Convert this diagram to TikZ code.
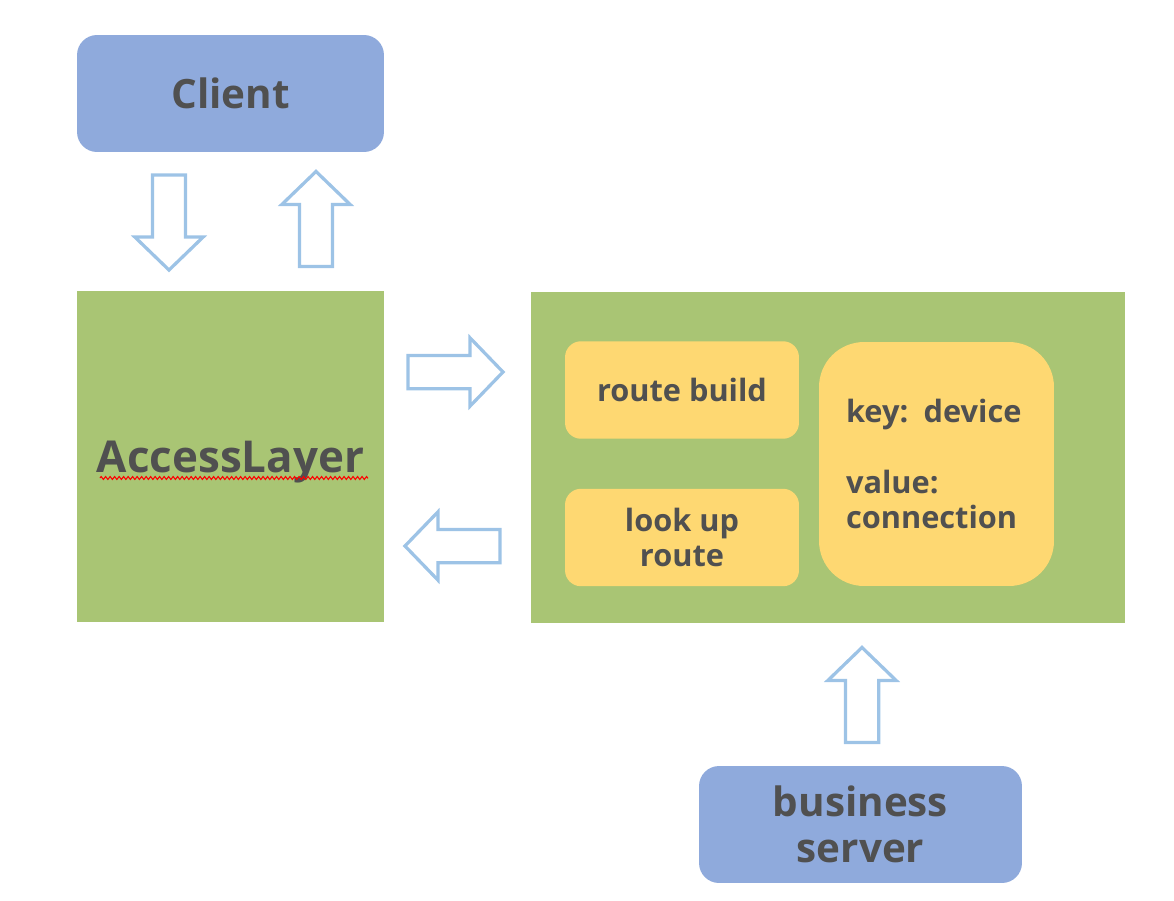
\documentclass[tikz,border=0pt]{standalone}
\usepackage{fontspec}
\setmainfont{Open Sans}
\usepackage{tikz}
\usetikzlibrary{shapes,shapes.arrows}
\usetikzlibrary{decorations.pathmorphing}

\definecolor{boxblue}{HTML}{8FAADC}
\definecolor{layergreen}{HTML}{A9C574}
\definecolor{tableyellow}{HTML}{FED872}
\definecolor{textgray}{HTML}{505050}
\definecolor{arrowblue}{HTML}{9DC3E6}

\begin{document}
\begin{tikzpicture}[x=0.02cm, y=-0.02cm,
every node/.style={text=textgray, font=\bfseries},
endpoint/.style={fill=boxblue, rounded corners=0.4cm, minimum width=6.14cm, minimum height=2.34cm, align=center, font=\fontsize{23}{27}\selectfont\bfseries},
layer/.style={fill=layergreen, minimum height=6.62cm},
table/.style={fill=tableyellow, rounded corners=0.32cm, minimum width=4.68cm, minimum height=1.95cm, align=center, font=\fontsize{17.5}{20}\selectfont\bfseries},
flow/.style={single arrow, draw=arrowblue, fill=white, line width=0.065cm, inner sep=0.3cm, single arrow head extend=0.35cm, single arrow tip angle=92, minimum height=1.9cm}
    ]
  \useasboundingbox (0,0) rectangle (1174,900);
  % outer boxes
  \node[endpoint] (client) at (230.5,93.5) {Client};
  \node[layer, minimum width=6.14cm, font=\fontsize{25}{30}\selectfont\bfseries] (access) at (230.5,456.5) {\raisebox{-0.12cm}[\height][\depth]{AccessLayer}};
  \node[layer, minimum width=11.88cm] (router) at (828,457.5) {};
  \node[endpoint, minimum width=6.46cm, font=\fontsize{23}{26}\selectfont\bfseries] (server) at (860.5,824.5) {business\\server};
  % inside the router
  \node[table] (build) at (682,390) {route build};
  \node[table] (lookup) at (682,537.5) {look up\\route};
  \node[table, rounded corners=0.9cm, minimum width=4.7cm, minimum height=4.88cm, text width=3.62cm, align=left] (map) at (936.5,464) {key:\ \,device\\[0.72cm]value:\\connection};
  \draw[red, line width=0.6pt, decorate, decoration={zigzag, segment length=0.09cm, amplitude=0.03cm}] (100,478) -- (368,478);
  % block arrows
  \node[flow, shape border rotate=270] (down) at (169,214.5) {};
  \node[flow, shape border rotate=90] (up) at (316,227) {};
  \node[flow] (send) at (447.5,372) {};
  \node[flow, shape border rotate=180] (reply) at (460.5,546) {};
  \node[flow, shape border rotate=90] (push) at (862,703) {};
\end{tikzpicture}
\end{document}
